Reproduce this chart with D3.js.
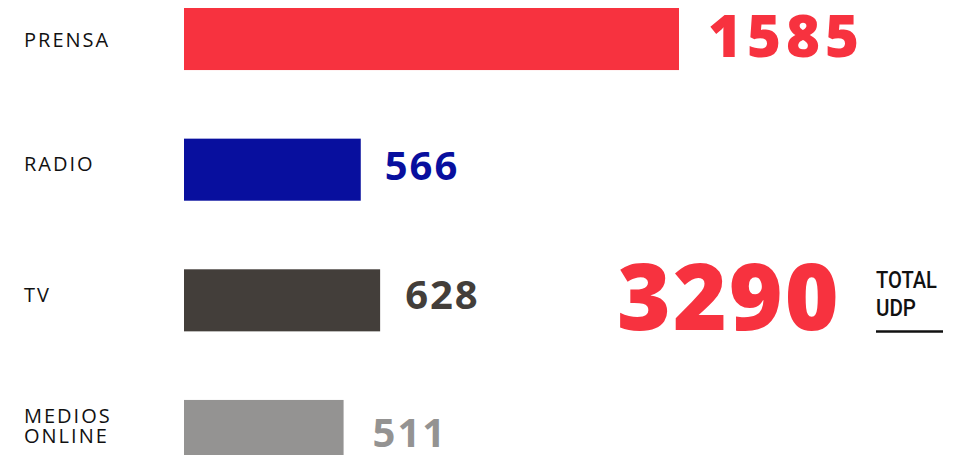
<!DOCTYPE html>
<html>
<head>
<meta charset="utf-8">
<script src="https://cdn.jsdelivr.net/npm/d3@7"></script>
<style>
  html, body { margin: 0; padding: 0; background: #fff; }
  svg { display: block; }
</style>
</head>
<body>
<svg id="chart" width="966" height="455"></svg>
<script>
// Medios de comunicación — cifras por soporte
const categories = ["PRENSA", "RADIO", "TV", "MEDIOS ONLINE"];
const values = [1585, 566, 628, 511];
const colors = ["#f7323f", "#080f9e", "#433e3a", "#949392"];
const total = 3290;
const totalLabel = ["TOTAL", "UDP"];

const svg = d3.select("#chart");

const x = d3.scaleLinear().domain([0, 1585]).range([184, 679]);
const y = d3.scaleBand().domain(categories).range([8, 462]).paddingInner(0.525).paddingOuter(0);

// category labels (may span two lines)
const labelLines = { "MEDIOS ONLINE": ["MEDIOS", "ONLINE"] };
const labelNudge = { "PRENSA": 7, "RADIO": 0, "TV": 1, "MEDIOS ONLINE": 0 };

categories.forEach((c, i) => {
  const lines = labelLines[c] || [c];
  const t = svg.append("text")
    .attr("x", 24)
    .attr("font-family", "'Open Sans', sans-serif")
    .attr("font-size", 20)
    .attr("letter-spacing", 2)
    .attr("fill", "#111");
  const base = lines.length === 1 ? y(c) + 32 + labelNudge[c] : y(c) + 23;
  lines.forEach((ln, j) => {
    t.append("tspan").attr("x", 24).attr("y", base + j * 20.5).text(ln);
  });
});

// bars
svg.selectAll("rect.bar")
  .data(categories)
  .join("rect")
  .attr("class", "bar")
  .attr("x", x(0))
  .attr("y", d => y(d))
  .attr("width", (d, i) => x(values[i]) - x(0))
  .attr("height", y.bandwidth())
  .attr("fill", (d, i) => colors[i]);

// value labels
const valueStyle = [
  { size: 58, weight: 800, ls: 5, gap: 29, dy: 49 },
  { size: 40, weight: 700, ls: 2, gap: 24, dy: 41 },
  { size: 40, weight: 700, ls: 2, gap: 25, dy: 40 },
  { size: 40, weight: 700, ls: 2, gap: 29, dy: 47 }
];
svg.selectAll("text.value")
  .data(categories)
  .join("text")
  .attr("class", "value")
  .attr("x", (d, i) => x(values[i]) + valueStyle[i].gap)
  .attr("y", (d, i) => y(d) + valueStyle[i].dy)
  .attr("font-family", "'Open Sans', sans-serif")
  .attr("font-weight", (d, i) => valueStyle[i].weight)
  .attr("font-size", (d, i) => valueStyle[i].size)
  .attr("letter-spacing", (d, i) => valueStyle[i].ls)
  .attr("fill", (d, i) => colors[i])
  .text((d, i) => values[i]);

// total
svg.append("text")
  .attr("x", 617)
  .attr("y", 330)
  .attr("font-family", "'Open Sans', sans-serif")
  .attr("font-weight", 800)
  .attr("font-size", 92)
  .attr("letter-spacing", 2)
  .attr("fill", colors[0])
  .text(total);

const tl = svg.append("text")
  .attr("font-family", "Roboto, sans-serif")
  .attr("font-weight", 500)
  .attr("font-size", 23)
  .attr("fill", "#111");
const tlWidths = [61, 40];
totalLabel.forEach((t, j) => {
  tl.append("tspan")
    .attr("x", 876).attr("y", 288 + j * 28)
    .attr("textLength", tlWidths[j])
    .attr("lengthAdjust", "spacingAndGlyphs")
    .text(t);
});
svg.append("line")
  .attr("x1", 876).attr("x2", 943)
  .attr("y1", 331.5).attr("y2", 331.5)
  .attr("stroke", "#111")
  .attr("stroke-width", 2.5);
</script>
</body>
</html>
